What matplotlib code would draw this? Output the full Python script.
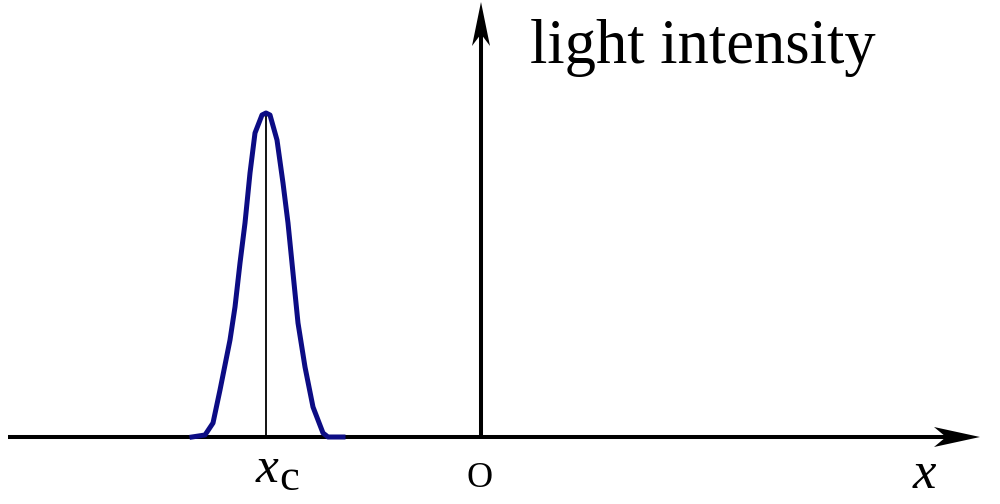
import matplotlib
matplotlib.use("Agg")
import matplotlib.pyplot as plt

# Peak profile (position relative to origin O, intensity)
positions = [-289, -276, -268, -261, -251, -246, -241, -236, -231, -226, -219, -215,
             -211, -204, -198, -193, -188, -183, -176, -168, -158, -153, -138]
intensity = [0, 2, 14, 47, 97, 130, 174, 214, 264, 304, 322, 324,
             322, 297, 254, 214, 164, 114, 70, 30, 4, 0, 0]
x_center = -215
peak_value = 324

y_label = "light intensity"
x_label = "x"
center_label = ("x", "c")
origin_label = "O"

plt.rcParams["mathtext.fontset"] = "custom"
plt.rcParams["mathtext.rm"] = "Liberation Serif"
plt.rcParams["mathtext.it"] = "Liberation Serif:italic"

fig = plt.figure(figsize=(10, 5.04), dpi=100)
ax = fig.add_axes([0, 0, 1, 1])
ax.set_xlim(-481, 519)
ax.set_ylim(-67, 437)
ax.axis("off")

serif = ["Liberation Serif", "DejaVu Serif"]

# axes lines
ax.plot([-473, 470], [0, 0], color="black", lw=2.9, solid_capstyle="butt", zorder=3)
ax.plot([0, 0], [0, 405], color="black", lw=2.9, solid_capstyle="butt", zorder=3)
# arrow heads (stealth shape)
ax.fill([499, 453, 465, 453], [0, 10, 0, -10], color="black", lw=0, zorder=4)
ax.fill([0, 9, 0, -9], [435, 391, 403, 391], color="black", lw=0, zorder=4)

# center line
ax.plot([x_center, x_center], [0, peak_value], color="black", lw=1.3, zorder=2)
# peak curve
ax.plot(positions, intensity, color="#0c0c84", lw=3.6, solid_joinstyle="round", zorder=3)

# labels
ax.text(49, 374, y_label, fontsize=45, family=serif, ha="left", va="baseline")
ax.text(-226, -56, "$" + center_label[0] + "$", fontsize=37,
        ha="left", va="bottom")
ax.text(-202, -62, r"$\mathrm{" + center_label[1] + "}$", fontsize=32,
        ha="left", va="bottom")
ax.text(-1, -50, origin_label, fontsize=26, family=serif, ha="center", va="baseline")
ax.text(431, -62, "$" + x_label + "$", fontsize=38, ha="left", va="bottom")

fig.savefig("out.png", dpi=100)
